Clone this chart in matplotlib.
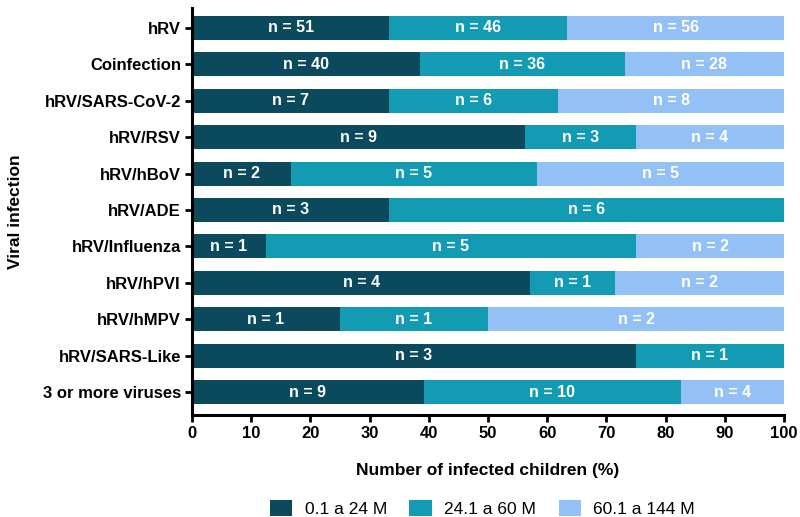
import matplotlib.pyplot as plt
import numpy as np

plt.rcParams['font.family'] = ['Liberation Sans', 'DejaVu Sans']

# counts per age group
infections = ['hRV', 'Coinfection', 'hRV/SARS-CoV-2', 'hRV/RSV', 'hRV/hBoV',
              'hRV/ADE', 'hRV/Influenza', 'hRV/hPVI', 'hRV/hMPV',
              'hRV/SARS-Like', '3 or more viruses']
age_0_24 = [51, 40, 7, 9, 2, 3, 1, 4, 1, 3, 9]
age_24_60 = [46, 36, 6, 3, 5, 6, 5, 1, 1, 1, 10]
age_60_144 = [56, 28, 8, 4, 5, 0, 2, 2, 2, 0, 4]
groups = ['0.1 a 24 M', '24.1 a 60 M', '60.1 a 144 M']
colors = ['#0b4a5c', '#139bb4', '#93c0f5']

counts = np.array([age_0_24, age_24_60, age_60_144], dtype=float)
pct = counts / counts.sum(axis=0) * 100

fig = plt.figure(figsize=(8, 5.17), dpi=100)
ax = fig.add_axes([0.24, 0.197, 0.74, 0.788])

y = np.arange(len(infections))
left = np.zeros(len(infections))
for i in range(3):
    ax.barh(y, pct[i], left=left, height=0.66, color=colors[i], label=groups[i])
    for j in range(len(infections)):
        if counts[i, j] > 0:
            ax.text(left[j] + pct[i, j] / 2, y[j], 'n = %d' % counts[i, j],
                    ha='center', va='center', color='white',
                    fontsize=11.5, fontweight='bold')
    left += pct[i]

ax.set_xlim(0, 100)
ax.set_ylim(10.63, -0.55)
ax.set_xticks(np.arange(0, 101, 10))
ax.set_yticks(y)
ax.set_yticklabels(infections)
for lab in ax.get_xticklabels() + ax.get_yticklabels():
    lab.set_fontweight('bold')
    lab.set_fontsize(12)
ax.tick_params(width=2, length=5, pad=3)
ax.spines['top'].set_visible(False)
ax.spines['right'].set_visible(False)
ax.spines['left'].set_linewidth(2.2)
ax.spines['bottom'].set_linewidth(2.2)

ax.set_xlabel('Number of infected children (%)', fontsize=12.5, fontweight='bold', labelpad=16)
ax.set_ylabel('Viral infection', fontsize=12.5, fontweight='bold', labelpad=14)

fig.legend(loc='lower center', bbox_to_anchor=(0.603, -0.03), ncol=3, frameon=False,
           fontsize=12.5, handlelength=1.3, handleheight=1.0, handletextpad=0.7,
           columnspacing=1.3)

plt.savefig('out.png', dpi=100)
plt.close()
